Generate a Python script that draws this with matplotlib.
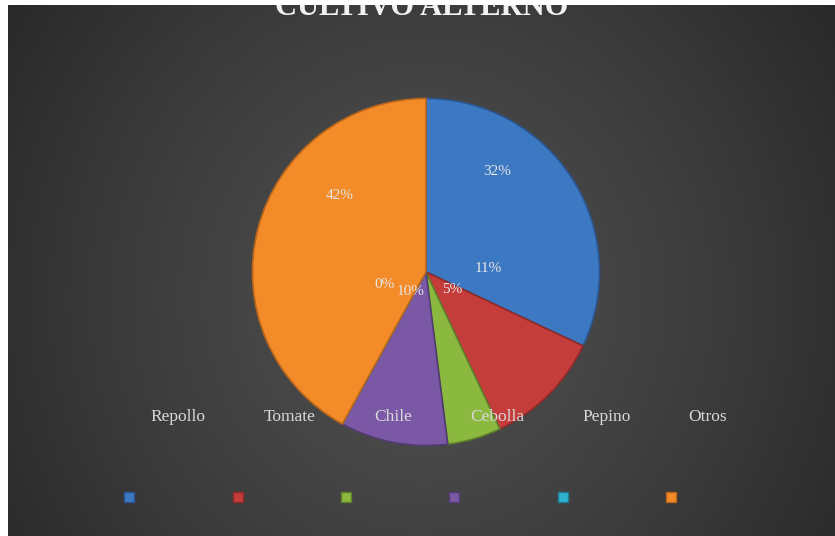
# pie chart of alternate crops, dark excel style
import numpy as np
import matplotlib
matplotlib.use('Agg')
import matplotlib.pyplot as plt
from matplotlib.lines import Line2D

# data
cultivos = ['Repollo', 'Tomate', 'Chile', 'Cebolla', 'Pepino', 'Otros']
porcentajes = [32, 11, 5, 10, 0, 42]
colores = ['#3d78c2', '#c53d3b', '#8bb83f', '#7b58a5', '#2db3cf', '#f28b28']
bordes = ['#2a5590', '#8e2a28', '#5f7f2a', '#533b74', '#1f7d91', '#b8661c']
titulo = 'CULTIVO ALTERNO'

# label positions inside the pie (fraction of radius), as excel put them
pos_etiquetas = [(0.41, 0.58), (0.36, 0.02), (0.15, -0.10),
                 (-0.09, -0.11), (-0.24, -0.07), (-0.50, 0.44)]

W, H = 835, 536
fig = plt.figure(figsize=(W/100, H/100), dpi=100)
fig.patch.set_facecolor('white')

# background with radial gradient
bg = fig.add_axes([8/W, 0, (W-8)/W, (H-5)/H])
yy, xx = np.mgrid[0:300, 0:500]
cx, cy = 250, 165
d = np.sqrt(((xx-cx)/330.0)**2 + ((yy-cy)/330.0)**2)
g = np.clip(0.31 - 0.17*d**1.3, 0.14, 0.31)
bg.imshow(np.dstack([g, g, g]), extent=[8, W, H, 5], aspect='auto',
          interpolation='bilinear')
bg.set_xlim(8, W)
bg.set_ylim(H, 5)
bg.axis('off')
bg.text(422, 15, titulo, ha='center', va='baseline', fontsize=22,
        fontweight='bold', family='Liberation Serif', color='#f2f2f2',
        clip_on=True)

# pie
cx_p, cy_p, r = 426, 272, 177
ax = fig.add_axes([(cx_p-r)/W, (H-cy_p-r)/H, 2*r/W, 2*r/H])
wedges, _ = ax.pie(porcentajes, colors=colores, startangle=90,
                   counterclock=False, radius=1,
                   wedgeprops=dict(linewidth=1.2))
for w, e in zip(wedges, bordes):
    w.set_edgecolor(e)
ax.set_xlim(-1.02, 1.02)
ax.set_ylim(-1.02, 1.02)
ax.axis('off')

for (px, py), p in zip(pos_etiquetas, porcentajes):
    ax.text(px, py, '%d%%' % p, ha='center', va='center', fontsize=11,
            family='Liberation Serif', color='#e6e6e6')

# legend labels row
h_txt = [Line2D([], [], linestyle='none') for _ in cultivos]
leg1 = fig.legend(h_txt, cultivos, ncol=6, loc='center',
                  bbox_to_anchor=(439/W, 1-417/H), frameon=False,
                  handlelength=0, handletextpad=0, columnspacing=3.35,
                  prop={'family': 'Liberation Serif', 'size': 12.5})
for t in leg1.get_texts():
    t.set_color('#d9d9d9')

# legend markers row
h_mk = [Line2D([], [], linestyle='none', marker='s', markersize=7,
               markerfacecolor=c, markeredgecolor=e)
        for c, e in zip(colores, bordes)]
leg2 = fig.legend(h_mk, [''] * 6, ncol=6, loc='center',
                  bbox_to_anchor=(400/W, 1-498/H), frameon=False,
                  handlelength=1, handletextpad=0, columnspacing=6.8,
                  prop={'size': 10})

fig.savefig('out.png', dpi=100, facecolor=fig.get_facecolor())
